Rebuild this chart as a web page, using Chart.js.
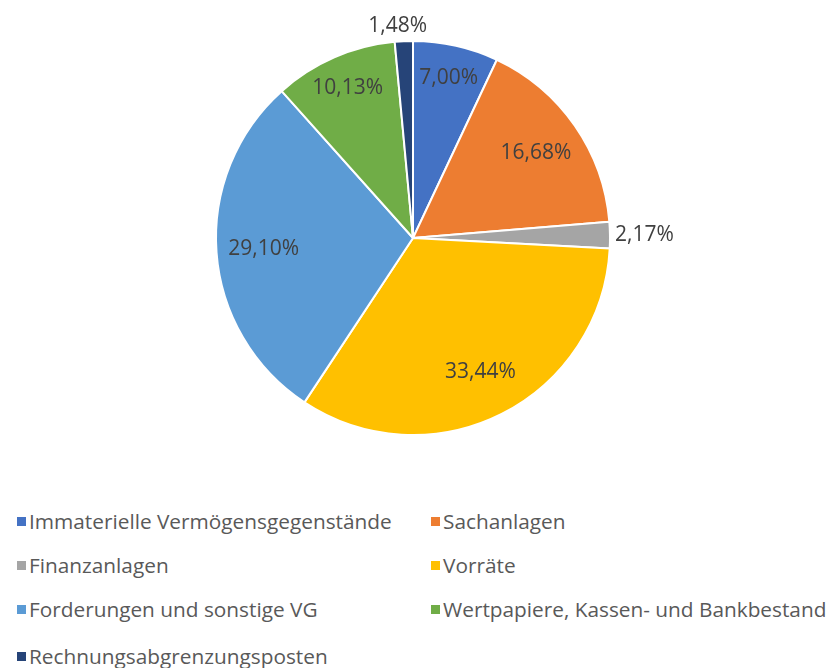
<!DOCTYPE html>
<html>
<head>
<meta charset="utf-8">
<script src="https://cdn.jsdelivr.net/npm/chart.js@4.4.0/dist/chart.umd.min.js"></script>
<style>
  body { margin: 0; background: #fff; font-family: "Open Sans", sans-serif; }
  #wrap { position: relative; width: 828px; height: 668px; }
  #legend { position: absolute; left: 0; top: 500px; width: 828px; }
  .item { position: absolute; font-size: 20.8px; color: #595959; white-space: nowrap; line-height: 24px; }
  .item span.box { position: absolute; left: -12px; top: 8px; width: 9px; height: 9px; }
</style>
</head>
<body>
<div id="wrap">
  <canvas id="pie" width="828" height="470"></canvas>
  <div id="legend"></div>
</div>
<script>
// Daten
let kategorien = ['Immaterielle Vermögensgegenstände', 'Sachanlagen', 'Finanzanlagen', 'Vorräte',
                  'Forderungen und sonstige VG', 'Wertpapiere, Kassen- und Bankbestand', 'Rechnungsabgrenzungsposten'];
let anteile = [7.00, 16.68, 2.17, 33.44, 29.10, 10.13, 1.48];
let farben = ['#4472C4', '#ED7D31', '#A5A5A5', '#FFC000', '#5B9BD5', '#70AD47', '#264478'];

// Beschriftung der Segmente
let labelPlugin = {
    id: 'sliceLabels',
    afterDatasetsDraw(chart) {
        let {ctx} = chart;
        let arcs = chart.getDatasetMeta(0).data;
        ctx.save();
        ctx.font = '21px "Open Sans"';
        ctx.fillStyle = '#404040';
        arcs.forEach((arc, i) => {
            let text = anteile[i].toFixed(2).replace('.', ',') + '%';
            let mid = (arc.startAngle + arc.endAngle) / 2;
            let cos = Math.cos(mid), sin = Math.sin(mid);
            if (anteile[i] < 3) {
                let r = arc.outerRadius + 5;
                let x = arc.x + cos * r, y = arc.y + sin * r;
                if (Math.abs(cos) > 0.5) {
                    ctx.textAlign = cos > 0 ? 'left' : 'right';
                    ctx.textBaseline = 'middle';
                } else {
                    ctx.textAlign = 'center';
                    ctx.textBaseline = sin < 0 ? 'bottom' : 'top';
                    x -= 6;
                }
                ctx.fillText(text, x, y);
            } else {
                // schmale Segmente: Beschriftung weiter aussen
                let r = arc.outerRadius * (anteile[i] < 12 ? 0.83 : 0.76);
                ctx.textAlign = 'center';
                ctx.textBaseline = 'middle';
                ctx.fillText(text, arc.x + cos * r, arc.y + sin * r);
            }
        });
        ctx.restore();
    }
};

let chart = new Chart(document.getElementById('pie'), {
    type: 'pie',
    data: {
        labels: kategorien,
        datasets: [{
            data: anteile,
            backgroundColor: farben,
            borderColor: '#ffffff',
            borderWidth: 2,
            hoverOffset: 0
        }]
    },
    options: {
        responsive: false,
        animation: false,
        devicePixelRatio: 1,
        layout: { padding: { top: 40, bottom: 34, left: 0, right: 2 } },
        plugins: { legend: { display: false }, tooltip: { enabled: false } }
    },
    plugins: [labelPlugin]
});

// Legende in zwei Spalten
let legend = document.getElementById('legend');
let zeilen = [21, 65, 109, 156];
kategorien.forEach((k, i) => {
    let div = document.createElement('div');
    div.className = 'item';
    div.style.left = (i % 2 == 0 ? 29 : 443) + 'px';
    div.style.top = (zeilen[Math.floor(i / 2)] - 12) + 'px';
    let box = document.createElement('span');
    box.className = 'box';
    box.style.background = farben[i];
    div.appendChild(box);
    div.appendChild(document.createTextNode(k));
    legend.appendChild(div);
});
</script>
</body>
</html>
